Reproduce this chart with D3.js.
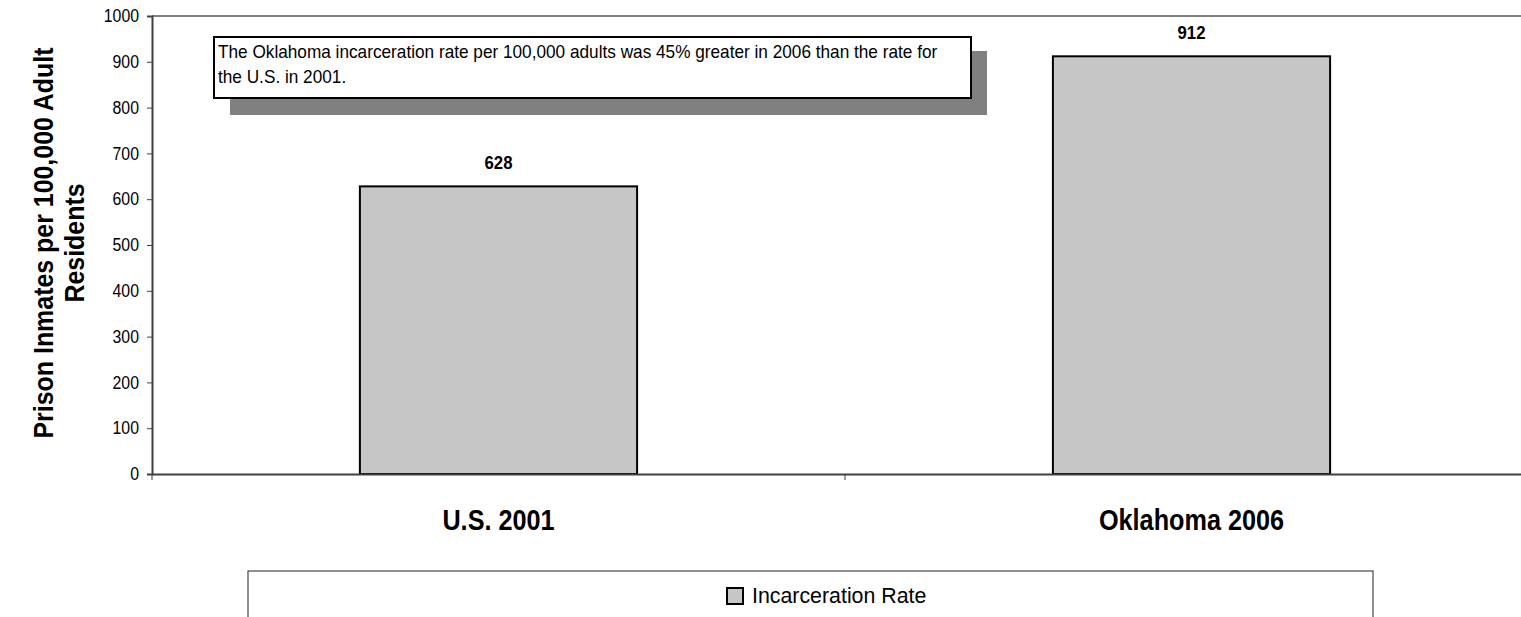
<!DOCTYPE html>
<html><head><meta charset="utf-8">
<script src="https://cdn.jsdelivr.net/npm/d3@7/dist/d3.min.js"></script>
<style>body{margin:0;background:#fff;overflow:hidden}</style>
</head><body>
<svg id="c" width="1521" height="617"></svg>
<script>
const categories = ["U.S. 2001", "Oklahoma 2006"];
const values = [628, 912];
const yTicks = [0,100,200,300,400,500,600,700,800,900,1000];
const seriesName = "Incarceration Rate";
const yTitle = ["Prison Inmates per 100,000 Adult", "Residents"];
const note = ["The Oklahoma incarceration rate per 100,000 adults was 45% greater in 2006 than the rate for", "the U.S. in 2001."];

const F = "'Liberation Sans Narrow','Arial Narrow','Liberation Sans',Arial,sans-serif";
const svg = d3.select("#c");
const L = 152, R = 1538, T = 16, B = 474;
const x = d3.scaleBand().domain(categories).range([L, R]).paddingInner(0).paddingOuter(0);
const y = d3.scaleLinear().domain([0, 1000]).range([B, T]);

// horizontally condense text by a factor
function condense(sel, f) {
  sel.each(function() {
    const n = this.getComputedTextLength();
    d3.select(this).attr("textLength", n * f).attr("lengthAdjust", "spacingAndGlyphs");
  });
}

// top border line
svg.append("line").attr("x1", L).attr("x2", R).attr("y1", T).attr("y2", T)
  .attr("stroke", "#808080").attr("stroke-width", 2);

// bars
const bw = x.bandwidth() * 0.4;
svg.selectAll("rect.bar").data(values).enter().append("rect")
  .attr("x", (d, i) => x(categories[i]) + (x.bandwidth() - bw) / 2)
  .attr("y", d => y(d)).attr("width", bw).attr("height", d => y(0) - y(d))
  .attr("fill", "#c6c6c6").attr("stroke", "#000").attr("stroke-width", 2);

// value labels
const vl = svg.selectAll("text.val").data(values).enter().append("text")
  .attr("x", (d, i) => x(categories[i]) + x.bandwidth() / 2)
  .attr("y", d => y(d) - 17).attr("text-anchor", "middle")
  .attr("font-family", F).attr("font-weight", "bold").attr("font-size", 19).text(d => d);
condense(vl, 0.88);

// y axis
const ya = svg.append("g").attr("transform", `translate(${L},0)`)
  .call(d3.axisLeft(y).tickValues(yTicks).tickSize(5).tickPadding(8).tickFormat(d3.format("d")));
ya.select(".domain").attr("stroke", "#404040").attr("stroke-width", 2);
ya.selectAll(".tick line").attr("stroke", "#404040");
const ytx = ya.selectAll("text").attr("font-family", F).attr("font-size", 18).attr("fill", "#000");
condense(ytx, 0.88);

// x axis
const xa = svg.append("g").attr("transform", `translate(0,${B})`)
  .call(d3.axisBottom(x).tickSize(0).tickPadding(0));
xa.select(".domain").attr("stroke", "#404040").attr("stroke-width", 2);
const xtx = xa.selectAll(".tick text").attr("font-family", F).attr("font-weight", "bold")
  .attr("font-size", 29).attr("fill", "#000").attr("dy", 0).attr("y", 56);
condense(xtx, 0.87);
const bounds = [L, x(categories[1]), R];
svg.selectAll("line.xt").data(bounds).enter().append("line")
  .attr("x1", d => d).attr("x2", d => d).attr("y1", B).attr("y2", B + 6)
  .attr("stroke", "#404040");

// y title
const yt = svg.append("text").attr("transform", `translate(53,243) rotate(-90)`)
  .attr("text-anchor", "middle").attr("font-family", F).attr("font-weight", "bold").attr("font-size", 28);
const yts = yt.selectAll("tspan").data(yTitle).enter().append("tspan")
  .attr("x", 0).attr("dy", (d, i) => i === 0 ? 0 : 31).text(d => d);
condense(yts, 0.89);

// annotation box with shadow
svg.append("rect").attr("x", 230).attr("y", 51).attr("width", 757).attr("height", 64).attr("fill", "#808080");
svg.append("rect").attr("x", 214).attr("y", 37).attr("width", 757).attr("height", 61)
  .attr("fill", "#fff").attr("stroke", "#000").attr("stroke-width", 2);
const nt = svg.selectAll("text.note").data(note).enter().append("text")
  .attr("x", 218).attr("y", (d, i) => 57.5 + i * 25.5)
  .attr("font-family", F).attr("font-size", 18.5).text(d => d);
condense(nt, 0.93);

// legend
svg.append("rect").attr("x", 248).attr("y", 571).attr("width", 1125).attr("height", 60)
  .attr("fill", "#fff").attr("stroke", "#222").attr("stroke-width", 1);
svg.append("rect").attr("x", 727).attr("y", 588).attr("width", 16).attr("height", 16)
  .attr("fill", "#c6c6c6").attr("stroke", "#000").attr("stroke-width", 2);
const lt = svg.append("text").attr("x", 752).attr("y", 603).attr("font-family", F).attr("font-size", 22).text(seriesName);
condense(lt, 0.97);
</script>
</body></html>
